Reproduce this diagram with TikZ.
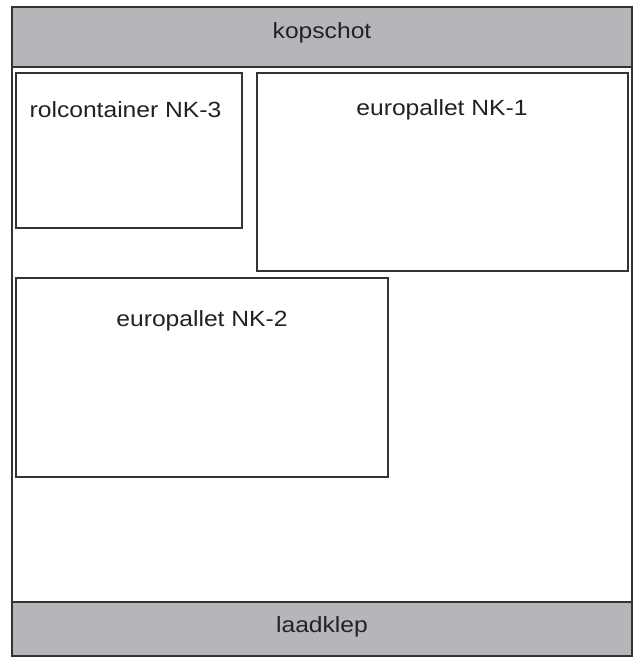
\documentclass[tikz,border=0pt]{standalone}
\usepackage{fontspec}
\setmainfont{Liberation Sans}[FakeStretch=1.12]
\definecolor{linec}{HTML}{333333}
\definecolor{bandc}{HTML}{B5B6BA}
\definecolor{textc}{HTML}{222222}
\begin{document}
\begin{tikzpicture}[x=1pt,y=-1pt,
  every node/.style={font=\fontsize{22}{25}\selectfont, text=textc},
  box/.style={draw=linec, line width=2pt, fill=white, rectangle, inner sep=0pt},
  band/.style={draw=linec, line width=2pt, fill=bandc, rectangle, inner sep=0pt},
  lbl/.style={anchor=center}]
\useasboundingbox (0,0) rectangle (635,657);
% outer frame
\node[box, minimum width=620pt, minimum height=648pt] (frame) at (322,331.5) {};
% bands
\node[band, minimum width=620pt, minimum height=60pt] (kop) at (322,37) {};
\node[lbl] (kopt) at (322,33) {kopschot};
\node[band, minimum width=620pt, minimum height=54pt] (laad) at (322,629) {};
\node[lbl] (laadt) at (322,627) {laadklep};
% cargo
\node[box, minimum width=226pt, minimum height=155pt] (nk3) at (129,150.5) {};
\node[lbl] (nk3t) at (125.5,110) {rolcontainer NK-3};
\node[box, minimum width=371pt, minimum height=198pt] (nk1) at (442.5,172) {};
\node[lbl] (nk1t) at (442,110) {europallet NK-1};
\node[box, minimum width=372pt, minimum height=199pt] (nk2) at (202,377.5) {};
\node[lbl] (nk2t) at (202,321) {europallet NK-2};
\end{tikzpicture}
\end{document}
